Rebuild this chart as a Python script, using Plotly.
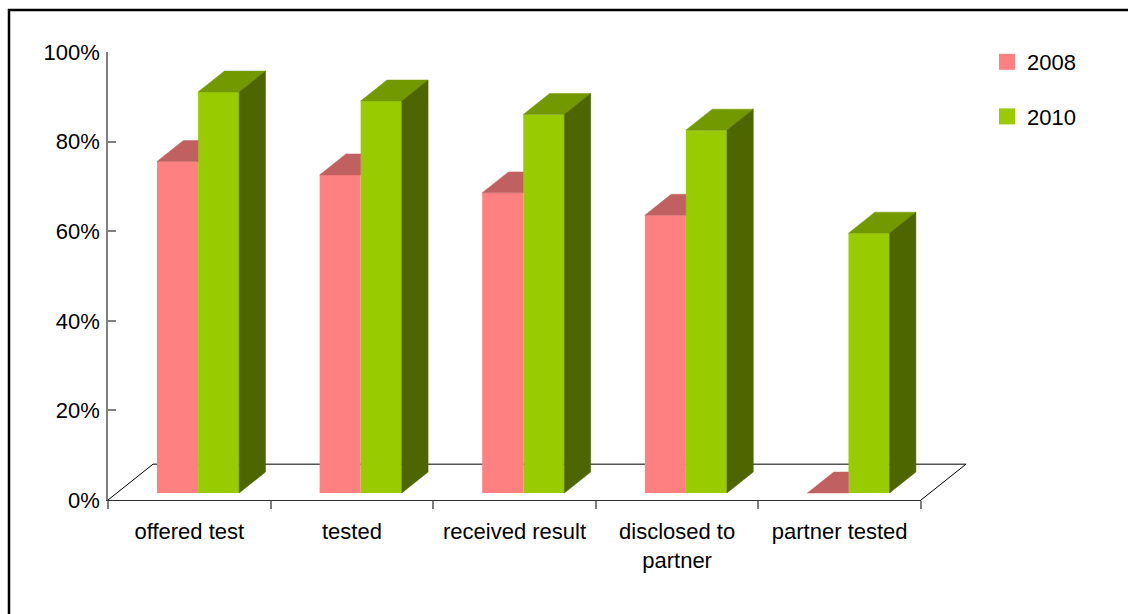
import plotly.graph_objects as go

categories = ["offered test", "tested", "received result", "disclosed to<br>partner", "partner tested"]
series_names = ["2008", "2010"]
values_2008 = [74, 71, 67, 62, 0]
values_2010 = [89.5, 87.5, 84.5, 81, 58]
y_ticks = [0, 20, 40, 60, 80, 100]
y_tick_labels = ["0%", "20%", "40%", "60%", "80%", "100%"]

# --- layout geometry (pixels) ---
W, H = 1128, 614
L, R, T, B = 108, 207, 52, 114
PLOT_W = W - L - R
PLOT_H = H - T - B
N = len(categories)

# 3D projection in data units
DX = 0.277      # floor depth in category units
DY = 8.0        # floor depth in % units
FRONT, BACK = 0.195, 0.78
BAR_W = 0.2525
b0x, b0y = FRONT * DX, FRONT * DY
bdx, bdy = (BACK - FRONT) * DX, (BACK - FRONT) * DY

PINK, PINK_TOP = "#FF8080", "#C06060"
GREEN, GREEN_TOP, GREEN_SIDE = "#99CC00", "#739900", "#4D6600"
FONT = "Liberation Sans Narrow, Arial Narrow, Liberation Sans, Arial, sans-serif"
FS = 22

centers = [i + b0x for i in range(N)]

fig = go.Figure()
fig.add_trace(go.Bar(x=centers, y=values_2008, base=b0y, width=BAR_W, offset=-BAR_W,
                     marker=dict(color=PINK, line=dict(width=0)), showlegend=False, name="2008"))
fig.add_trace(go.Bar(x=centers, y=values_2010, base=b0y, width=BAR_W, offset=0,
                     marker=dict(color=GREEN, line=dict(width=0)), showlegend=False, name="2010"))

def poly_trace(polys, color):
    xs, ys = [], []
    for p in polys:
        for (px, py) in p:
            xs.append(px); ys.append(py)
        xs.append(p[0][0]); ys.append(p[0][1])
        xs.append(None); ys.append(None)
    return go.Scatter(x=xs, y=ys, mode="lines", fill="toself", fillcolor=color,
                      line=dict(color=color, width=0.5), showlegend=False, hoverinfo="skip")

pink_tops, green_tops, green_sides = [], [], []
for c, v in zip(centers, values_2008):
    x0, x1, t = c - BAR_W, c, b0y + v
    pink_tops.append([(x0, t), (x1, t), (x1, t + bdy), (x0 + bdx, t + bdy)])
for c, v in zip(centers, values_2010):
    x0, x1, t = c, c + BAR_W, b0y + v
    green_tops.append([(x0, t), (x1, t), (x1 + bdx, t + bdy), (x0 + bdx, t + bdy)])
    green_sides.append([(x1, b0y), (x1, t), (x1 + bdx, t + bdy), (x1 + bdx, b0y + bdy)])

fig.add_trace(poly_trace(pink_tops, PINK_TOP))
fig.add_trace(poly_trace(green_tops, GREEN_TOP))
fig.add_trace(poly_trace(green_sides, GREEN_SIDE))

# legend entries
for name, col in zip(series_names, [PINK, GREEN]):
    fig.add_trace(go.Scatter(x=[None], y=[None], mode="markers", name=name, legendgroup=name,
                             marker=dict(symbol="square", size=16, color=col)))

# floor (paper coordinates derived from the axis ranges)
fx, fy = DX / N, DY / 100.0
fig.add_shape(type="path", xref="paper", yref="paper", layer="below",
              path=f"M 0,0 L {fx},{fy} L {1+fx},{fy} L 1,0",
              fillcolor="white", line=dict(color="#000000", width=1))
# outer frame
fig.add_shape(type="rect", xref="paper", yref="paper", layer="above",
              x0=(9 - L) / PLOT_W, x1=(1140 - L) / PLOT_W,
              y0=(T + PLOT_H - 640) / PLOT_H, y1=(T + PLOT_H - 10) / PLOT_H,
              line=dict(color="black", width=2.5))

fig.update_layout(
    width=W, height=H,
    margin=dict(l=L, r=R, t=T, b=B),
    paper_bgcolor="white", plot_bgcolor="rgba(0,0,0,0)",
    barmode="overlay",
    font=dict(family=FONT, size=FS, color="black"),
    legend=dict(x=(987 - L) / PLOT_W, y=(T + PLOT_H - 41) / PLOT_H, xanchor="left", yanchor="top",
                font=dict(family=FONT, size=FS, color="black"), tracegroupgap=23,
                bgcolor="rgba(0,0,0,0)"),
    xaxis=dict(range=[-0.5, N - 0.5], tickmode="array", tickvals=list(range(N)), ticktext=categories,
               ticks="", showline=True, linecolor="#333333", linewidth=1, showgrid=False, zeroline=False,
               ticklabelstandoff=12,
               minor=dict(tickmode="array", tickvals=[i - 0.5 for i in range(N + 1)], ticks="outside",
                          ticklen=8, tickcolor="#808080", tickwidth=1.5, showgrid=False)),
    yaxis=dict(range=[0, 100], tickmode="array", tickvals=y_ticks, ticktext=y_tick_labels,
               ticks="inside", ticklen=8, tickcolor="#808080", tickwidth=1.5,
               showline=True, linecolor="#808080", linewidth=1.5, showgrid=False, zeroline=False,
               ticklabelstandoff=2),
)

fig.write_html("out.html")
